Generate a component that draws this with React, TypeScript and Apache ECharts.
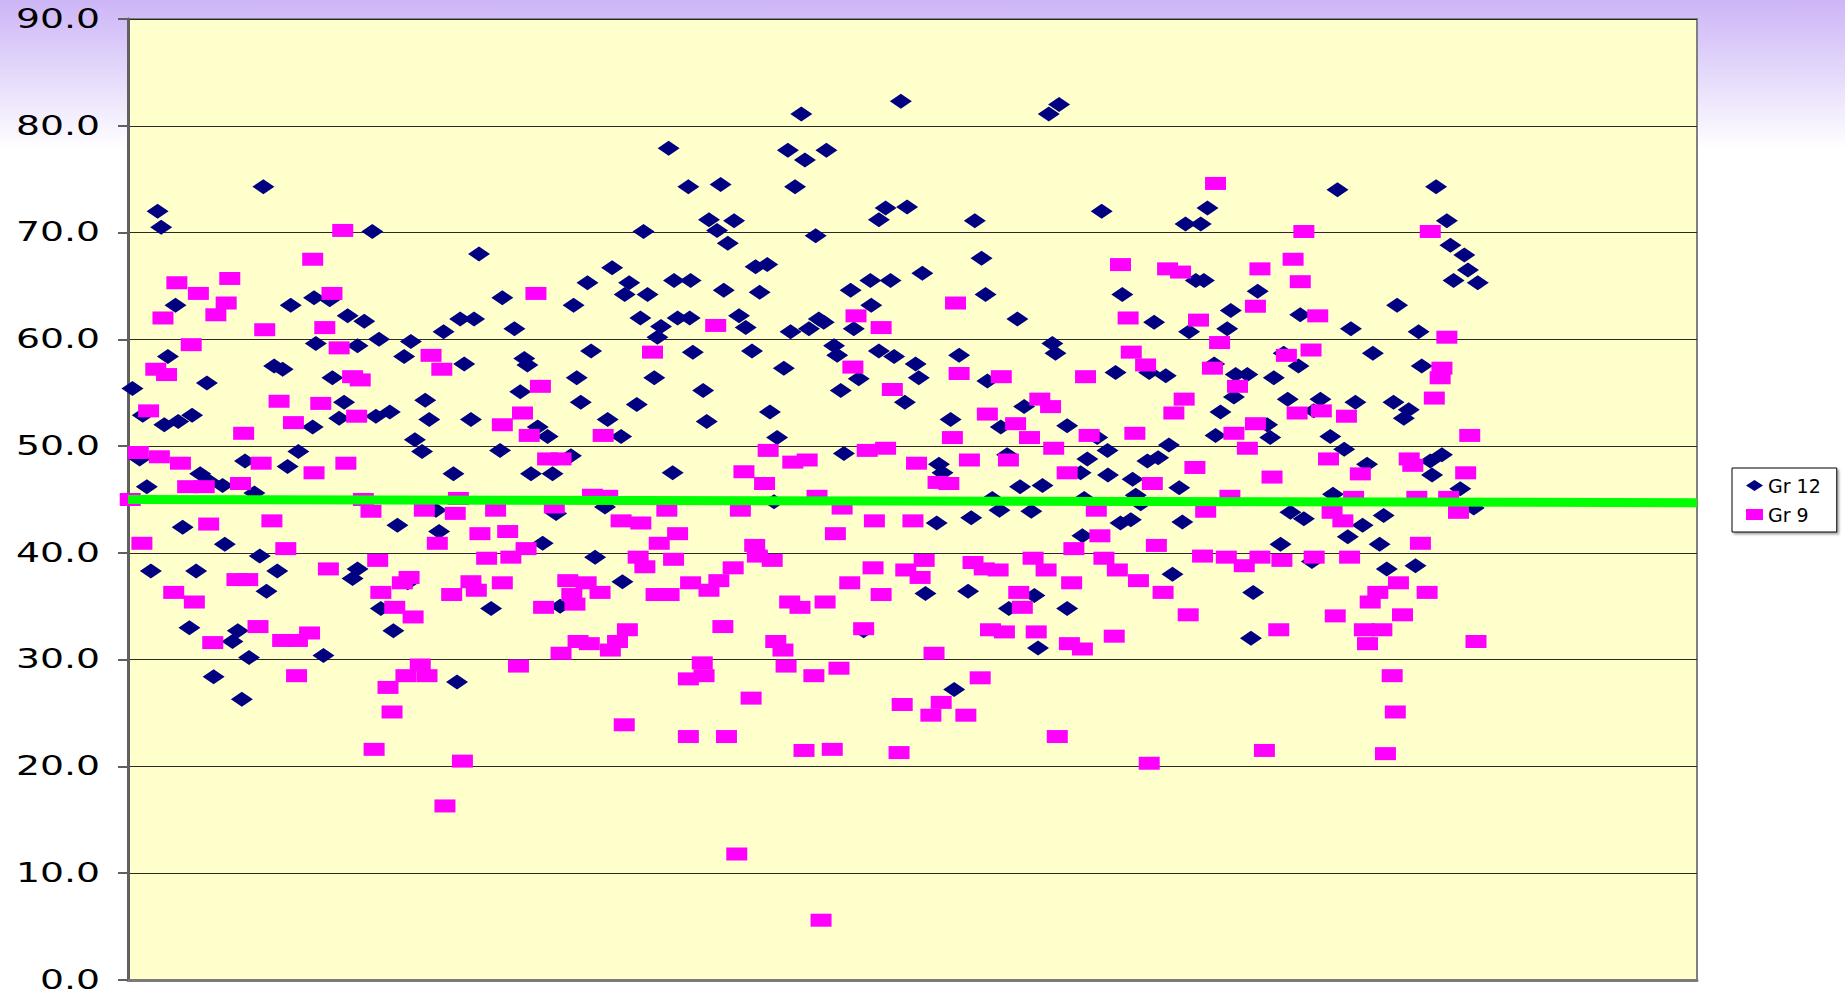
import React, { useEffect, useRef } from "react";
import * as echarts from "echarts";

const yTicks = [0, 10, 20, 30, 40, 50, 60, 70, 80, 90];
const seriesNames = ["Gr 12", "Gr 9"];

const gr12: number[][] = [
  [1, 55.4], [2.6, 48.8], [3.3, 52.9], [4.2, 46.2], [5.1, 38.3], [6.6, 72.0], [7.4, 70.5], [8.1, 52.0], [8.9, 58.4], [10.6, 63.2],
  [11.2, 52.3], [12.2, 42.4], [13.7, 33.0], [14.3, 52.9], [15.2, 38.3], [16.1, 47.4], [17.6, 55.9], [18.1, 46.7], [19.1, 28.4], [21.1, 46.3],
  [21.6, 40.8], [23.3, 31.7], [24.5, 32.7], [25.4, 26.3], [26.1, 48.6], [27, 30.2], [28.2, 45.6], [29.4, 39.7], [30.2, 74.3], [30.9, 36.4],
  [32.6, 57.5], [33.3, 38.3], [34.5, 57.2], [35.6, 48.1], [36.3, 63.2], [38, 49.5],
  [41.5, 63.9], [45, 63.7], [54.5, 70.1], [49, 62.2], [52.7, 61.7], [41.9, 59.6], [51.2, 59.4], [56, 60.0], [63.1, 59.8], [61.6, 58.4],
  [70.4, 60.7], [74.1, 61.9], [77.2, 61.9], [78.3, 68.0], [83.5, 63.9], [45.6, 56.4], [48.2, 54.1], [47.1, 52.6], [55.3, 52.8], [58.4, 53.2],
  [41.2, 51.8], [66.3, 54.3], [67.2, 52.5], [64, 50.6], [65.6, 49.5], [75, 57.7], [76.5, 52.5], [83, 49.6], [72.6, 47.4], [60.1, 42.6],
  [69.4, 42.0], [68.7, 44.0], [51.2, 38.5], [50.1, 37.6], [62.4, 37.2], [56.4, 34.8], [59.2, 32.7], [43.6, 30.4], [73.4, 27.9], [81, 34.8],
  [120.6, 77.9], [125, 74.3], [115, 70.1], [108, 66.7], [102.5, 65.3], [111.8, 65.3], [110.8, 64.2], [115.9, 64.2], [121.8, 65.5], [125.5, 65.5],
  [99.4, 63.2], [86.2, 61.0], [114.3, 62.0], [118.9, 61.2], [118.1, 60.2], [122.6, 62.0], [125.3, 62.0], [126, 58.8], [103.3, 58.9], [88.4, 58.2],
  [89.1, 57.6], [100.1, 56.4], [117.4, 56.4], [87.5, 55.1], [101, 54.1], [113.5, 53.9], [91.4, 51.8], [93.6, 50.9], [107, 52.5], [110, 50.9],
  [98.8, 49.1], [89.9, 47.4], [94.7, 47.4], [121.5, 47.5], [95.5, 43.7], [106.4, 44.3], [92.5, 40.9], [104.2, 39.6], [110.3, 37.3], [96.4, 35.0],
  [150.2, 81.1], [147.2, 77.7], [151, 76.8], [155.8, 77.7], [132.2, 74.5], [148.8, 74.3], [129.6, 71.2], [131.4, 70.2], [135.2, 71.1], [133.8, 69.0],
  [153.4, 69.7], [167.5, 71.2], [140, 66.8], [142.6, 67.0], [132.9, 64.6], [140.9, 64.4], [161.2, 64.6], [165.6, 65.5], [165.8, 63.2], [136.3, 62.2],
  [137.8, 61.1], [147.8, 60.7], [151.9, 61.0], [154.1, 61.9], [155.2, 61.6], [161.9, 61.0], [139.2, 58.9], [157.5, 59.4], [158.2, 58.5], [167.5, 58.9],
  [146.3, 57.3], [163, 56.3], [128.3, 55.2], [159, 55.2], [143.2, 53.2], [129.1, 52.3], [144.8, 50.8], [159.7, 49.3], [144.1, 44.8], [164.1, 32.7],
  [172.4, 82.3], [205.4, 81.1], [207.7, 82.0], [169, 72.3], [173.8, 72.4], [188.9, 71.1], [190.4, 67.6], [170.1, 65.5], [177.2, 66.2], [191.3, 64.2],
  [198.4, 61.9], [206.2, 59.6], [206.9, 58.7], [170.9, 58.4], [175.7, 57.7], [185.4, 58.5], [176.4, 56.4], [191.7, 56.1], [173.3, 54.1], [183.5, 52.5],
  [199.9, 53.7], [194.7, 51.8], [209.5, 51.9], [180.9, 48.3], [181.7, 47.5], [196.1, 49.2], [199, 46.2], [204, 46.3], [180.4, 42.8], [188.1, 43.3],
  [192.8, 45.1], [194.4, 44.0], [201.5, 43.9], [177.9, 36.2], [187.4, 36.4], [196.5, 34.8], [202.2, 36.0], [209.5, 34.8], [203, 31.1], [184.3, 27.2],
  [217.2, 72.0], [235.9, 70.8], [239.3, 70.8], [240.8, 72.3], [238.2, 65.5], [240, 65.5], [221.8, 64.2], [252, 64.5], [246, 62.7], [228.9, 61.6],
  [236.7, 60.7], [245.2, 61.0], [220.3, 56.9], [227.8, 56.9], [231.5, 56.6], [242.3, 57.7], [247.1, 56.7], [249.7, 56.7], [246.7, 54.6], [243.7, 53.2],
  [216.2, 50.8], [218.5, 49.6], [214, 48.8], [232.2, 50.1], [242.6, 51.0], [227.4, 48.6], [229.8, 48.9], [212.5, 47.5], [218.6, 47.3], [224.1, 46.9],
  [234.5, 46.1], [213.3, 45.1], [225.9, 44.6], [224.8, 45.4], [221.4, 42.8], [223.7, 43.1], [235.2, 42.9], [212.9, 41.6], [233, 38.0], [251, 36.3],
  [250.5, 32.0],
  [269.8, 74.0], [291.8, 74.3], [294.2, 71.1], [283.1, 63.2], [261.5, 62.3], [272.8, 61.0], [287.9, 60.7], [257.8, 58.7], [261.1, 57.5], [277.7, 58.7],
  [288.6, 57.5], [255.6, 56.4], [258.7, 54.4], [266, 54.4], [273.8, 54.1], [282.3, 54.1], [285.7, 53.4], [284.6, 52.6], [264.5, 53.3], [254.1, 52.0],
  [254.8, 50.8], [268.2, 50.9], [271.3, 49.7], [276.4, 48.3], [290.5, 48.6], [293.1, 49.2], [290.9, 47.3], [259.3, 43.8], [262.3, 43.2], [268.8, 45.5],
  [280.1, 43.5], [275.4, 42.6], [272.1, 41.5], [257.1, 40.8], [279.2, 40.8], [264.1, 39.2], [280.8, 38.5], [287.2, 38.8],
  [295, 68.8], [298.1, 67.9], [298.9, 66.5], [301.1, 65.3], [295.7, 65.5], [297.2, 46.0], [300.2, 44.2],
];

const gr9: number[][] = [
  [0.5, 45.0], [2.3, 49.4], [3.1, 40.9], [4.6, 53.3], [6.2, 57.2], [7, 49.0], [7.8, 62.0], [8.6, 56.7], [10.9, 65.3], [11.7, 48.4],
  [14.1, 59.5], [15.7, 64.3], [13.3, 46.2], [17, 46.2], [18, 42.7], [10.2, 36.3], [14.8, 35.4], [18.9, 31.6], [19.6, 62.3], [21.9, 63.4],
  [22.7, 65.7], [25.8, 51.2], [25.1, 46.5], [24.3, 37.5], [26.7, 37.5], [29, 33.1], [30.5, 60.9], [29.7, 48.4], [32.1, 43.0], [33.7, 54.2],
  [35.2, 40.4], [36.9, 52.2], [34.5, 31.8], [37.8, 31.8], [37.6, 28.5], [40.5, 32.5],
  [47.9, 70.2], [41.2, 67.5], [45.5, 64.3], [43.9, 61.1], [47.1, 59.2], [50.1, 56.5], [51.8, 56.2], [43, 54.0], [51, 52.8], [67.6, 58.5],
  [70, 57.2], [41.5, 47.5], [48.6, 48.4], [52.5, 45.0], [54.2, 43.9], [66.1, 44.0], [73, 43.7], [73.7, 45.1], [69, 40.9], [82, 44.0],
  [78.5, 41.8], [83.5, 52.0], [44.7, 38.5], [55.7, 39.3], [56.4, 36.3], [59.5, 34.9], [62.7, 37.7], [61.2, 37.2], [63.6, 34.0], [72.2, 36.1],
  [76.5, 37.3], [77.7, 36.5], [80, 39.5], [83.5, 37.2], [58, 27.4], [62, 28.5], [65.2, 29.5], [66.7, 28.5], [58.9, 25.1], [54.9, 21.6],
  [74.6, 20.5], [70.7, 16.3],
  [91, 64.3], [117, 58.8], [92, 55.6], [88, 53.1], [89.5, 51.0], [106, 51.0], [93.6, 48.8], [96.6, 48.8], [103.6, 45.4], [95.1, 44.3],
  [107, 45.3], [120.2, 44.0], [84.7, 42.0], [88.8, 40.4], [85.4, 39.6], [110, 43.0], [114.4, 42.8], [122.6, 41.8], [118.5, 40.9], [113.8, 39.6],
  [115.3, 38.7], [121.7, 39.4], [125.5, 37.2], [98.1, 37.4], [102.2, 37.2], [99, 36.1], [99.7, 35.2], [105.3, 36.3], [92.7, 34.9], [117.8, 36.1],
  [120.7, 36.1], [111.4, 32.8], [109.2, 31.7], [100.4, 31.7], [102.9, 31.5], [96.6, 30.6], [107.6, 30.9], [87.1, 29.4], [125, 28.2], [110.7, 23.9],
  [125, 22.8],
  [131.1, 61.3], [162.4, 62.2], [168, 61.1], [161.7, 57.4], [142.8, 49.6], [137.4, 47.6], [148.3, 48.5], [151.5, 48.7], [142, 46.5], [164.9, 49.6],
  [169, 49.8], [136.6, 44.0], [153.7, 45.3], [159.3, 44.2], [166.5, 43.0], [157.8, 41.8], [139.8, 40.7], [140.4, 39.7], [143.7, 39.3], [135, 38.6],
  [131.8, 37.4], [129.6, 36.5], [166.2, 38.6], [161, 37.2], [147.6, 35.4], [149.9, 34.9], [155.5, 35.4], [168, 36.1], [132.7, 33.1], [164.1, 32.9],
  [144.5, 31.7], [146.1, 30.9], [128.1, 29.7], [128.5, 28.5], [146.8, 29.4], [153, 28.5], [158.6, 29.2], [139, 26.4], [133.5, 22.8], [150.8, 21.5],
  [157.1, 21.6], [135.8, 11.8], [154.6, 5.6],
  [184.6, 63.4], [185.4, 56.8], [170.5, 55.3], [194.8, 56.5], [203.4, 54.4], [205.8, 53.7], [191.7, 53.0], [198, 52.1], [183.9, 50.8], [201.1, 50.8],
  [175.9, 48.4], [206.5, 49.8], [187.7, 48.7], [196.4, 48.7], [180.7, 46.6], [183.1, 46.5], [209.5, 47.5], [175.1, 43.0], [211, 40.4], [177.6, 39.3],
  [173.5, 38.4], [176.7, 37.7], [188.5, 39.1], [191, 38.5], [194.1, 38.4], [201.9, 39.5], [204.8, 38.4], [198.7, 36.3], [199.5, 34.9], [210.5, 37.2],
  [192.4, 32.8], [195.5, 32.6], [202.6, 32.6], [210, 31.5], [179.8, 30.6], [190.1, 28.3], [172.7, 25.8], [181.4, 26.0], [179.1, 24.8], [186.9, 24.8],
  [172, 21.3], [207.3, 22.8],
  [242.6, 74.6], [221.4, 67.0], [231.9, 66.6], [234.8, 66.3], [252.5, 66.6], [251.5, 63.1], [223.1, 62.0], [238.8, 61.8], [243.5, 59.7], [223.8, 58.8],
  [227, 57.6], [213.6, 56.5], [241.9, 57.3], [247.5, 55.6], [235.6, 54.4], [233.3, 53.1], [251.5, 52.1], [214.4, 51.0], [224.6, 51.2], [246.7, 51.2],
  [249.7, 49.8], [238, 48.0], [228.5, 46.5], [245.8, 45.3], [216, 44.0], [240.4, 43.9], [216.8, 41.6], [229.4, 40.7], [239.7, 39.7], [217.7, 39.5],
  [220.7, 38.4], [245, 39.6], [249, 38.8], [252.5, 39.6], [225.4, 37.4], [230.9, 36.3], [236.5, 34.2], [220, 32.2], [212.9, 31.0], [227.8, 20.3],
  [253.5, 21.5],
  [262.3, 70.1], [290.5, 70.1], [259.9, 67.5], [261.5, 65.4], [265.4, 62.2], [294.2, 60.2], [258.4, 58.5], [263.9, 59.0], [293.1, 57.3], [292.7, 56.4],
  [291.4, 54.5], [260.8, 53.1], [266.2, 53.3], [271.8, 52.8], [267.8, 48.8], [255.2, 47.1], [274.9, 47.4], [285.8, 48.8], [286.6, 48.2], [273.4, 45.2],
  [268.6, 43.8], [271, 43.0], [287.5, 45.2], [288.3, 40.9], [257.4, 39.3], [264.6, 39.6], [272.5, 39.6], [283.4, 37.2], [278.8, 36.3], [277.1, 35.4],
  [289.8, 36.3], [269.3, 34.1], [284.3, 34.2], [256.7, 32.8], [275.8, 32.8], [279.7, 32.8], [276.5, 31.5], [282, 28.5], [282.7, 25.1], [280.5, 21.2],
  [299.3, 51.0], [298.4, 47.5], [294.6, 45.2], [296.8, 43.8], [300.7, 31.7],
];

const targetLine: number[][] = [
  [0, 45.0],
  [350, 44.7],
];

export default function App() {
  const ref = useRef<HTMLDivElement>(null);

  useEffect(() => {
    if (!ref.current) return;
    const chart = echarts.init(ref.current, null, { renderer: "svg" });
    chart.setOption({
      animation: false,
      backgroundColor: {
        type: "linear",
        x: 0,
        y: 0,
        x2: 0,
        y2: 1,
        colorStops: [
          { offset: 0, color: "#CDB5F7" },
          { offset: 0.06, color: "#E0D2FA" },
          { offset: 0.15, color: "#FFFFFF" },
          { offset: 1, color: "#FFFFFF" },
        ],
      },
      grid: {
        left: 128,
        right: 148,
        top: 19,
        bottom: 17,
        show: true,
        backgroundColor: "#FFFFCC",
        borderColor: "#808080",
        borderWidth: 2,
      },
      legend: {
        data: [
          { name: seriesNames[0], icon: "diamond" },
          { name: seriesNames[1], icon: "rect" },
        ],
        orient: "vertical",
        left: 1732,
        top: 468,
        padding: [8, 16, 8, 14],
        itemGap: 10,
        itemWidth: 17,
        itemHeight: 11,
        borderColor: "#000",
        borderWidth: 1,
        backgroundColor: "#FFFFFF",
        shadowColor: "rgba(0,0,0,0.35)",
        shadowBlur: 2,
        shadowOffsetX: 2,
        shadowOffsetY: 2,
        textStyle: { fontSize: 19, fontFamily: "DejaVu Sans", color: "#000" },
      },
      xAxis: {
        type: "value",
        min: 0,
        max: 350,
        axisLine: { show: true, onZero: false, lineStyle: { color: "#7a7a7a", width: 3 } },
        axisTick: { show: false },
        axisLabel: { show: false },
        splitLine: { show: false },
      },
      yAxis: {
        type: "value",
        min: 0,
        max: 90,
        interval: 10,
        axisLine: { show: true, lineStyle: { color: "#606060", width: 3 } },
        axisTick: { show: true, inside: false, length: 10, lineStyle: { color: "#606060", width: 2 } },
        axisLabel: { show: false },
        splitLine: { show: true, lineStyle: { color: "#2a2a2a", width: 1 } },
      },
      series: [
        {
          name: seriesNames[0],
          type: "scatter",
          data: gr12,
          symbol: "diamond",
          symbolSize: [22, 15],
          itemStyle: { color: "#000080", opacity: 1 },
          z: 2,
        },
        {
          name: seriesNames[1],
          type: "scatter",
          data: gr9,
          symbol: "rect",
          symbolSize: [21, 13],
          itemStyle: { color: "#FF00FF", opacity: 1 },
          z: 3,
        },
        {
          name: "target",
          type: "line",
          data: targetLine,
          symbol: "none",
          silent: true,
          lineStyle: { color: "#00FF00", width: 9 },
          z: 4,
        },
      ],
    });

    const labels = yTicks.map((v) => {
      const py = chart.convertToPixel({ yAxisIndex: 0 }, v) as number;
      return {
        type: "text",
        x: 100,
        y: py,
        scaleX: 1.45,
        silent: true,
        style: {
          text: v.toFixed(1),
          fontSize: 26,
          fontFamily: "DejaVu Sans",
          fill: "#000",
          align: "right",
          verticalAlign: "middle",
        },
      };
    });
    chart.setOption({ graphic: labels });

    return () => chart.dispose();
  }, []);

  return (
    <div
      ref={ref}
      style={{ position: "fixed", left: 0, top: 0, width: 1845, height: 997 }}
    />
  );
}
